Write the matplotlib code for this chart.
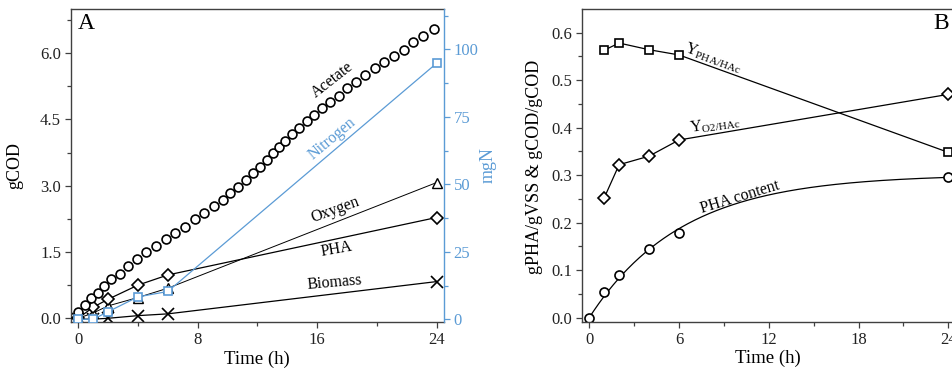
import numpy as np
import matplotlib
matplotlib.use("Agg")
import matplotlib.pyplot as plt
from matplotlib.ticker import MultipleLocator

plt.rcParams['font.family'] = ['Liberation Serif', 'DejaVu Serif']
plt.rcParams['mathtext.fontset'] = 'custom'
plt.rcParams['mathtext.rm'] = 'Liberation Serif'
plt.rcParams['mathtext.it'] = 'Liberation Serif:italic'

BLUE = '#5b9bd5'
SPINE = '#404040'

# ---------------- Panel A data ----------------
acetate_t = [0, 0.45, 0.87, 1.32, 1.74, 2.19, 2.77, 3.35, 3.95, 4.55, 5.18, 5.85, 6.51, 7.14,
             7.81, 8.46, 9.08, 9.71, 10.2, 10.71, 11.24, 11.69, 12.18, 12.65, 13.03, 13.43,
             13.88, 14.32, 14.81, 15.33, 15.77, 16.33, 16.89, 17.45, 18.0, 18.63, 19.23,
             19.86, 20.5, 21.13, 21.8, 22.42, 23.09, 23.81]
acetate_cod = [0.15, 0.30, 0.45, 0.58, 0.73, 0.90, 1.01, 1.19, 1.34, 1.49, 1.63, 1.79, 1.94, 2.07,
               2.24, 2.39, 2.53, 2.68, 2.83, 2.98, 3.13, 3.28, 3.43, 3.57, 3.73, 3.88,
               4.02, 4.17, 4.31, 4.47, 4.61, 4.76, 4.90, 5.04, 5.20, 5.35, 5.50,
               5.66, 5.79, 5.94, 6.08, 6.24, 6.39, 6.54]

sample_t = [0, 1, 2, 4, 6, 24]
pha_cod = [0.0, 0.25, 0.43, 0.75, 0.98, 2.28]
oxygen_cod = [0.0, 0.12, 0.28, 0.47, 0.68, 3.07]
biomass_cod = [-0.02, -0.02, 0.0, 0.06, 0.10, 0.83]
nitrogen_mgN = [0.0, 0.0, 2.8, 8.3, 10.3, 94.8]

# ---------------- Panel B data ----------------
yield_t = [1, 2, 4, 6, 24]
y_pha_hac = [0.563, 0.578, 0.564, 0.553, 0.348]
y_o2_hac = [0.252, 0.322, 0.340, 0.374, 0.470]
content_t = [0, 1, 2, 4, 6, 24]
pha_content = [0.0, 0.055, 0.089, 0.145, 0.179, 0.297]

fig = plt.figure(figsize=(9.53, 3.68), dpi=100)

def style_axis(ax):
    for s in ax.spines.values():
        s.set_color(SPINE)
        s.set_linewidth(1.0)
    ax.tick_params(which='both', direction='out', colors=SPINE, labelcolor='#222222',
                   labelsize=12, pad=3)
    ax.tick_params(which='major', length=4, width=0.9)
    ax.tick_params(which='minor', length=3, width=0.9)
    ax.tick_params(top=False, right=False)

def center_label(lbl):
    lbl.set_ha('center')
    lbl.set_va('center')
    lbl.set_rotation_mode('anchor')

# ---------------- Panel A ----------------
axA = fig.add_axes([0.0742, 0.125, 0.3917, 0.8497])
axA.plot(acetate_t, acetate_cod, ls='none', marker='o', ms=6.4, mfc='white', mec='black',
         mew=1.2, zorder=4)
axA.plot(sample_t, pha_cod, color='black', lw=0.9, marker='D', ms=6, mfc='white',
         mec='black', mew=1.2, zorder=3)
axA.plot(sample_t, oxygen_cod, color='black', lw=0.7, marker='^', ms=6.5, mfc='white',
         mec='black', mew=1.0, zorder=2)
axA.plot(sample_t, biomass_cod, color='black', lw=0.9, marker='x', ms=8, mec='black',
         mew=1.2, zorder=2)
axA.set_xlim(-0.5, 24.5)
axA.set_ylim(-0.084, 6.99)
axA.xaxis.set_major_locator(MultipleLocator(8))
axA.xaxis.set_minor_locator(MultipleLocator(4))
axA.yaxis.set_major_locator(MultipleLocator(1.5))
axA.yaxis.set_minor_locator(MultipleLocator(0.75))
axA.yaxis.set_major_formatter(matplotlib.ticker.FormatStrFormatter('%.1f'))
style_axis(axA)
axA.spines['right'].set_visible(False)
axA.set_xlabel('Time (h)', fontsize=13.5)
center_label(axA.xaxis.label)
axA.xaxis.set_label_coords(0.499, -0.12)
axA.set_ylabel('gCOD', fontsize=13)
center_label(axA.yaxis.label)
axA.yaxis.set_label_coords(-0.149, 0.502)
axA.text(0.043, 0.956, 'A', transform=axA.transAxes, fontsize=17, ha='center', va='center')

axN = axA.twinx()
axN.plot(sample_t, nitrogen_mgN, color=BLUE, lw=0.9, marker='s', ms=5.5, mfc='white',
         mec=BLUE, mew=1.2)
axN.set_ylim(-1.0, 114.8)
axN.yaxis.set_major_locator(MultipleLocator(25))
axN.yaxis.set_minor_locator(MultipleLocator(12.5))
for s in axN.spines.values():
    s.set_visible(False)
axN.spines['right'].set_visible(True)
axN.spines['right'].set_color(BLUE)
axN.spines['right'].set_linewidth(1.0)
axN.tick_params(which='both', direction='out', colors=BLUE, labelcolor=BLUE, labelsize=12, pad=3)
axN.tick_params(which='major', length=4, width=0.9)
axN.tick_params(which='minor', length=3, width=0.9)
axN.set_ylabel('mgN', fontsize=13, color=BLUE)
center_label(axN.yaxis.label)
axN.yaxis.set_label_coords(1.118, 0.502)

axA.text(17.0, 5.39, 'Acetate', fontsize=11.5, rotation=38, ha='center', va='center')
axA.text(17.0, 4.07, 'Nitrogen', fontsize=11.5, rotation=40, ha='center', va='center', color=BLUE)
axA.text(17.2, 2.45, 'Oxygen', fontsize=11.5, rotation=20, ha='center', va='center')
axA.text(17.3, 1.56, 'PHA', fontsize=11.5, rotation=10, ha='center', va='center')
axA.text(17.2, 0.80, 'Biomass', fontsize=11.5, rotation=5, ha='center', va='center')

# ---------------- Panel B ----------------
axB = fig.add_axes([0.6104, 0.125, 0.3925, 0.8497])
axB.plot(yield_t, y_pha_hac, color='black', lw=0.9, marker='s', ms=6, mfc='white',
         mec='black', mew=1.2)
axB.plot(yield_t, y_o2_hac, color='black', lw=0.9, marker='D', ms=6, mfc='white',
         mec='black', mew=1.2)

# saturation fit for PHA content: q = a * (1 - exp(-k t))
ct = np.array(content_t, dtype=float)
cq = np.array(pha_content, dtype=float)
best = None
for k in np.linspace(0.05, 0.5, 451):
    basis = 1 - np.exp(-k * ct)
    a = np.dot(basis, cq) / np.dot(basis, basis)
    err = np.sum((a * basis - cq) ** 2)
    if best is None or err < best[0]:
        best = (err, a, k)
_, a_fit, k_fit = best
tt = np.linspace(0, 24, 300)
axB.plot(tt, a_fit * (1 - np.exp(-k_fit * tt)), color='black', lw=0.9)
axB.plot(content_t, pha_content, ls='none', marker='o', ms=6.5, mfc='white',
         mec='black', mew=1.2)

axB.set_xlim(-0.5, 24.5)
axB.set_ylim(-0.009, 0.649)
axB.xaxis.set_major_locator(MultipleLocator(6))
axB.xaxis.set_minor_locator(MultipleLocator(3))
axB.yaxis.set_major_locator(MultipleLocator(0.1))
axB.yaxis.set_minor_locator(MultipleLocator(0.05))
axB.yaxis.set_major_formatter(matplotlib.ticker.FormatStrFormatter('%.1f'))
style_axis(axB)
axB.spines['right'].set_visible(False)
axB.set_xlabel('Time (h)', fontsize=13.5)
center_label(axB.xaxis.label)
axB.xaxis.set_label_coords(0.498, -0.115)
axB.set_ylabel('gPHA/gVSS & gCOD/gCOD', fontsize=13)
center_label(axB.yaxis.label)
axB.yaxis.set_label_coords(-0.125, 0.496)
axB.text(0.962, 0.956, 'B', transform=axB.transAxes, fontsize=17, ha='center', va='center')

axB.text(8.3, 0.547, r'Y$_{\mathrm{PHA/HAc}}$', fontsize=11.5, rotation=-20, ha='center', va='center')
axB.text(8.4, 0.406, r'Y$_{\mathrm{O2/HAc}}$', fontsize=11.5, rotation=8, ha='center', va='center')
axB.text(10.1, 0.254, 'PHA content', fontsize=11.5, rotation=17, ha='center', va='center')

fig.savefig('out.png', dpi=100)
